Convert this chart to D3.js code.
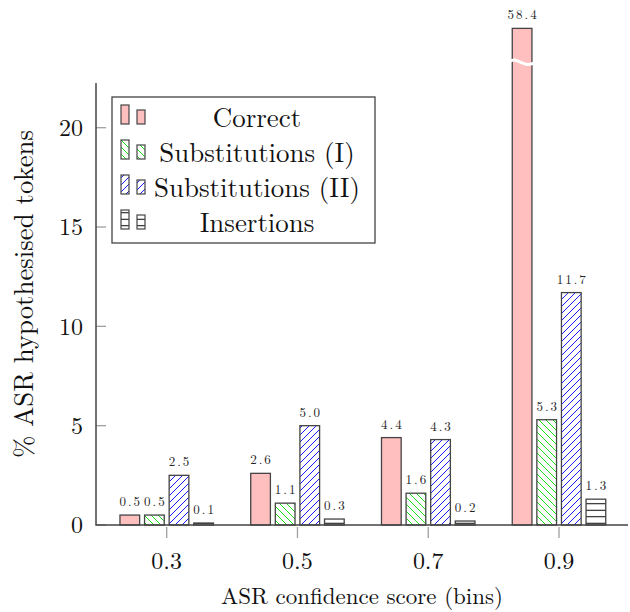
<!DOCTYPE html>
<html>
<head>
<meta charset="utf-8">
<script src="https://cdn.jsdelivr.net/npm/d3@7"></script>
<style>
  body { margin: 0; background: #fff; }
  svg { display: block; font-family: "Latin Modern Roman", "CMU Serif", "Liberation Serif", "DejaVu Serif", "Noto Serif", "FreeSerif", Times, serif; }
</style>
</head>
<body>
<div id="chart"></div>
<script>
// DATA
const bins = [0.3, 0.5, 0.7, 0.9];
const seriesNames = ["Correct", "Substitutions (I)", "Substitutions (II)", "Insertions"];
const correct = [0.5, 2.6, 4.4, 58.4];
const substitutionsI = [0.5, 1.1, 1.6, 5.3];
const substitutionsII = [2.5, 5.0, 4.3, 11.7];
const insertions = [0.1, 0.3, 0.2, 1.3];
const yTicks = [0, 5, 10, 15, 20];
const xTickLabels = ["0.3", "0.5", "0.7", "0.9"];

const seriesValues = [correct, substitutionsI, substitutionsII, insertions];
const fills = ["#ffbfbf", "url(#nwlines)", "url(#nelines)", "url(#hlines)"];
const barCap = 25; // bars taller than this are drawn broken

const settings = {
    width: 630,
    height: 612,
    left: 96,
    right: 628,
    top: 83,
    bottom: 525,
}

const svg = d3.select("#chart").append("svg")
    .attr("width", settings.width)
    .attr("height", settings.height);

// scale a text's font size so it spans the wanted width
function fitWidth(sel, target) {
    sel.each(function () {
        const base = parseFloat(this.style.fontSize);
        const w = this.getComputedTextLength();
        if (w > 0) d3.select(this).style("font-size", (base * target / w).toFixed(2) + "px");
    });
}

// patterns
const defs = svg.append("defs");
const nw = defs.append("pattern").attr("id", "nwlines")
    .attr("patternUnits", "userSpaceOnUse").attr("width", 7).attr("height", 7);
nw.append("rect").attr("width", 7).attr("height", 7).attr("fill", "#fff");
nw.append("path").attr("d", "M-1,-1L8,8M-8,-1L1,8M6,-1L15,8")
    .attr("stroke", "#00dd00").attr("stroke-width", 0.9);

const ne = defs.append("pattern").attr("id", "nelines")
    .attr("patternUnits", "userSpaceOnUse").attr("width", 7).attr("height", 7);
ne.append("rect").attr("width", 7).attr("height", 7).attr("fill", "#fff");
ne.append("path").attr("d", "M-1,8L8,-1M-8,8L1,-1M6,8L15,-1")
    .attr("stroke", "#0000ff").attr("stroke-width", 0.9);

const hl = defs.append("pattern").attr("id", "hlines")
    .attr("patternUnits", "userSpaceOnUse").attr("width", 7).attr("height", 6.5);
hl.append("rect").attr("width", 7).attr("height", 6.5).attr("fill", "#fff");
hl.append("path").attr("d", "M0,3.25H7")
    .attr("stroke", "#000").attr("stroke-width", 1);

// scales
const x = d3.scaleLinear().domain([0.3, 0.9]).range([166.7, 559]);
const inner = d3.scaleBand().domain(d3.range(4)).range([-49.2, 49.2])
    .paddingInner(0.2).paddingOuter(0.1);
const y = d3.scaleLinear().domain([0, 22.25]).range([settings.bottom, settings.top]);

// y ticks
svg.append("g").selectAll("line").data(yTicks).join("line")
    .attr("x1", settings.left).attr("x2", settings.left + 10)
    .attr("y1", d => y(d)).attr("y2", d => y(d))
    .attr("stroke", "#a0a0a0").attr("stroke-width", 1.3);
svg.append("g").selectAll("text").data(yTicks).join("text")
    .attr("x", settings.left - 13).attr("y", d => y(d)).attr("dy", "0.35em")
    .attr("text-anchor", "end").style("font-size", "24px").attr("fill", "#111")
    .text(d => d);

// x ticks
svg.append("g").selectAll("line").data(bins).join("line")
    .attr("x1", d => x(d)).attr("x2", d => x(d))
    .attr("y1", settings.bottom + 2).attr("y2", settings.bottom + 13)
    .attr("stroke", "#a0a0a0").attr("stroke-width", 1.3);
svg.append("g").selectAll("text").data(bins).join("text")
    .attr("x", d => x(d)).attr("y", 569)
    .attr("text-anchor", "middle").style("font-size", "24px").attr("fill", "#111")
    .text((d, i) => xTickLabels[i]);

// bars
const rows = [];
bins.forEach((b, i) => {
    seriesValues.forEach((vals, s) => {
        rows.push({bin: b, s: s, v: vals[i]});
    });
});

const barX = d => x(d.bin) + inner(d.s);
const barTop = d => y(Math.min(d.v, barCap));

svg.append("g").selectAll("rect").data(rows).join("rect")
    .attr("x", barX)
    .attr("y", barTop)
    .attr("width", inner.bandwidth())
    .attr("height", d => y(0) - barTop(d))
    .attr("fill", d => fills[d.s])
    .attr("stroke", "#444")
    .attr("stroke-width", 1.3);

// break mark on clipped bars
const broken = rows.filter(d => d.v > barCap);
svg.append("g").selectAll("path").data(broken).join("path")
    .attr("d", d => {
        const x0 = barX(d) - 2, w = inner.bandwidth() + 4, yc = y(23.3);
        return `M${x0},${yc - 1} C${x0 + w * 0.3},${yc - 6} ${x0 + w * 0.5},${yc + 6} ${x0 + w},${yc + 1}`;
    })
    .attr("fill", "none").attr("stroke", "#fff").attr("stroke-width", 3);

// value labels
svg.append("g").selectAll("text").data(rows).join("text")
    .attr("x", d => barX(d) + inner.bandwidth() / 2 + 1)
    .attr("y", d => barTop(d) - 9)
    .attr("text-anchor", "middle")
    .style("font-size", "13px").style("letter-spacing", "2px")
    .attr("fill", "#222")
    .text(d => d3.format(".1f")(d.v));

// axis lines
svg.append("path")
    .attr("d", `M${settings.left},${settings.top}V${settings.bottom}H${settings.right}`)
    .attr("fill", "none").attr("stroke", "#444").attr("stroke-width", 1.5);

// axis labels
svg.append("text")
    .attr("x", 362).attr("y", 604).attr("text-anchor", "middle")
    .style("font-size", "23px").attr("fill", "#111")
    .text("ASR confidence score (bins)")
    .call(fitWidth, 282);
svg.append("text")
    .attr("transform", "translate(33,294) rotate(-90)").attr("text-anchor", "middle")
    .style("font-size", "23px").attr("fill", "#111")
    .text("% ASR hypothesised tokens")
    .call(fitWidth, 328);

// legend
const legend = svg.append("g");
legend.append("rect")
    .attr("x", 112).attr("y", 97).attr("width", 263).attr("height", 146)
    .attr("fill", "#fff").attr("stroke", "#444").attr("stroke-width", 1.3);

const legendRows = legend.selectAll("g").data(seriesNames).join("g")
    .attr("transform", (d, i) => `translate(0,${124 + i * 35})`);
legendRows.append("rect")
    .attr("x", 121).attr("y", -19).attr("width", 8).attr("height", 19)
    .attr("fill", (d, i) => fills[i]).attr("stroke", "#444").attr("stroke-width", 1.2);
legendRows.append("rect")
    .attr("x", 137).attr("y", -14).attr("width", 8).attr("height", 14)
    .attr("fill", (d, i) => fills[i]).attr("stroke", "#444").attr("stroke-width", 1.2);
const legendText = legendRows.append("text")
    .attr("x", 257).attr("y", 3).attr("text-anchor", "middle")
    .style("font-size", "23px").attr("fill", "#111")
    .text(d => d);
// size the legend font from the widest entry
const widest = legendText.filter(d => d === "Substitutions (II)");
fitWidth(widest, 206);
legendText.style("font-size", widest.style("font-size"));
</script>
</body>
</html>
